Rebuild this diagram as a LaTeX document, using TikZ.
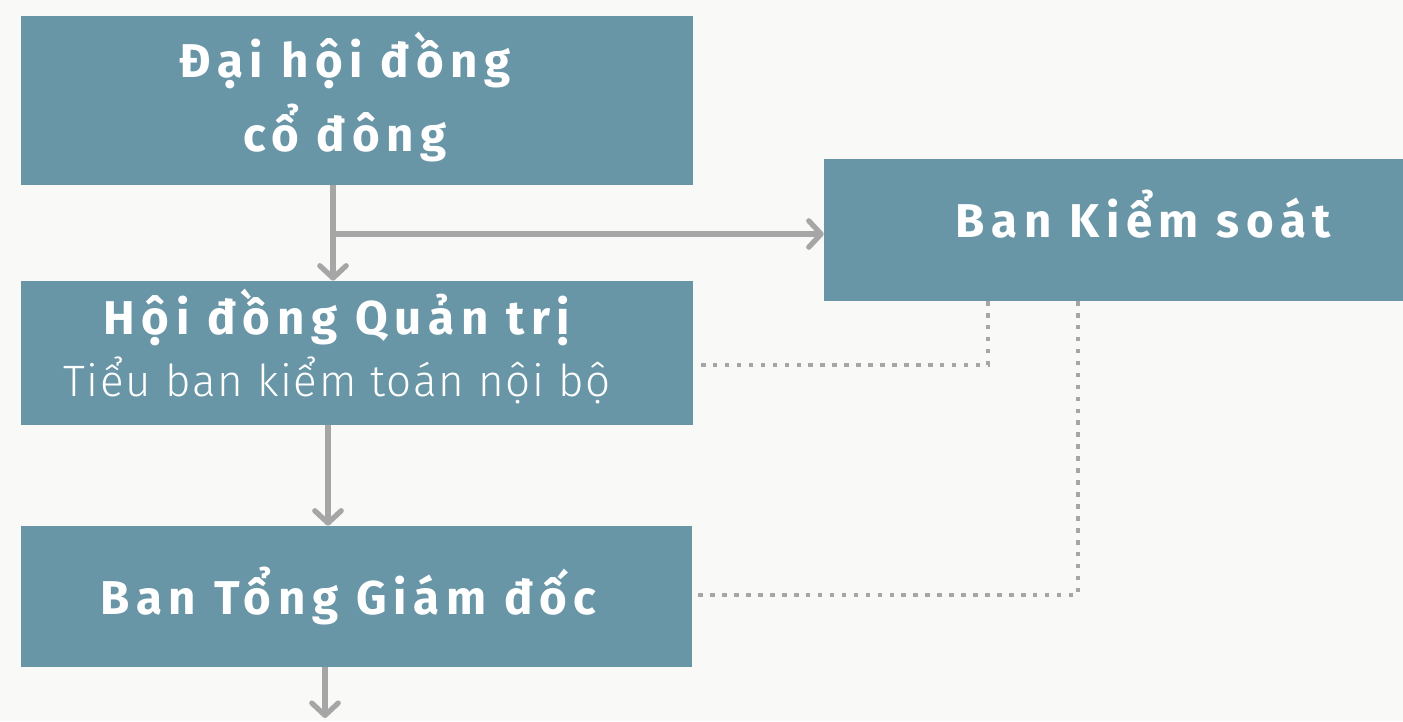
\documentclass[tikz,border=0pt]{standalone}
\usepackage{fontspec}
\setmainfont{Fira Sans}
\newfontfamily\titlefont[LetterSpace=14]{Fira Sans}
\newfontfamily\lightfont[LetterSpace=4]{Fira Sans Light}
\usepackage{tikz}
\usetikzlibrary{arrows.meta,positioning,calc}
\definecolor{bgcol}{HTML}{F9FAF8}
\definecolor{boxcol}{HTML}{6896A6}
\definecolor{linegray}{HTML}{A6A6A6}
\newcommand{\liftby}[2]{\raisebox{#1}[\height][\depth]{#2}}

\begin{document}
\begin{tikzpicture}[x=0.02cm, y=-0.02cm,
    orgbox/.style={fill=boxcol, text=white, align=center, inner sep=0pt,
      font=\titlefont\bfseries\fontsize{27}{40}\selectfont},
    flow/.style={draw=linegray, line width=3pt,
      -{Straight Barb[length=7pt,width=15pt,round]}},
    dotline/.style={draw=linegray, line width=2.6pt,
      dash pattern=on 2.6pt off 4.2pt}]
  \fill[bgcol] (0,0) rectangle (1403,721);
  \useasboundingbox (0,0) rectangle (1403,721);

  \node[orgbox, minimum width=13.44cm, minimum height=3.38cm] (dhcd) at (357,100.5)
    {\liftby{0.14cm}{Đại hội đồng}\hspace*{0.48cm}\\[-2pt]cổ đông\hspace*{0.48cm}};
  \node[orgbox, minimum width=11.58cm, minimum height=2.84cm] (bks) at (1113.5,230)
    {\hspace*{1.2cm}\liftby{0.32cm}{Ban Kiểm soát}};
  \node[orgbox, minimum width=13.44cm, minimum height=2.88cm] (hdqt) at (357,353)
    {\liftby{0.16cm}{Hội đồng Quản trị}\hspace*{0.8cm}\\[-6pt]
     \liftby{0.1cm}{\lightfont\mdseries\fontsize{25}{34}\selectfont Tiểu ban kiểm toán nội bộ}\hspace*{0.8cm}};
  \node[orgbox, minimum width=13.42cm, minimum height=2.82cm] (btgd) at (356.5,596.5)
    {Ban Tổng Giám đốc\hspace*{0.32cm}};

  \coordinate (a1) at (333,185);
  \coordinate (j1) at (333,234);
  \coordinate (a2) at (328,425);
  \coordinate (a3) at (325,667);
  \coordinate (e3) at (325,718);
  \coordinate (d1) at (988,301);
  \coordinate (d2) at (1078,301);
  \coordinate (k1) at (698,365);
  \coordinate (k2) at (698,595);

  \draw[flow] (a1) -- (a1 |- hdqt.north);
  \draw[flow] (j1) -- (j1 -| bks.west);
  \draw[flow] (a2) -- (a2 |- btgd.north);
  \draw[flow] (a3) -- (e3);

  \draw[dotline] (d1) |- (k1);
  \draw[dotline] (d2) |- (k2);
\end{tikzpicture}
\end{document}
